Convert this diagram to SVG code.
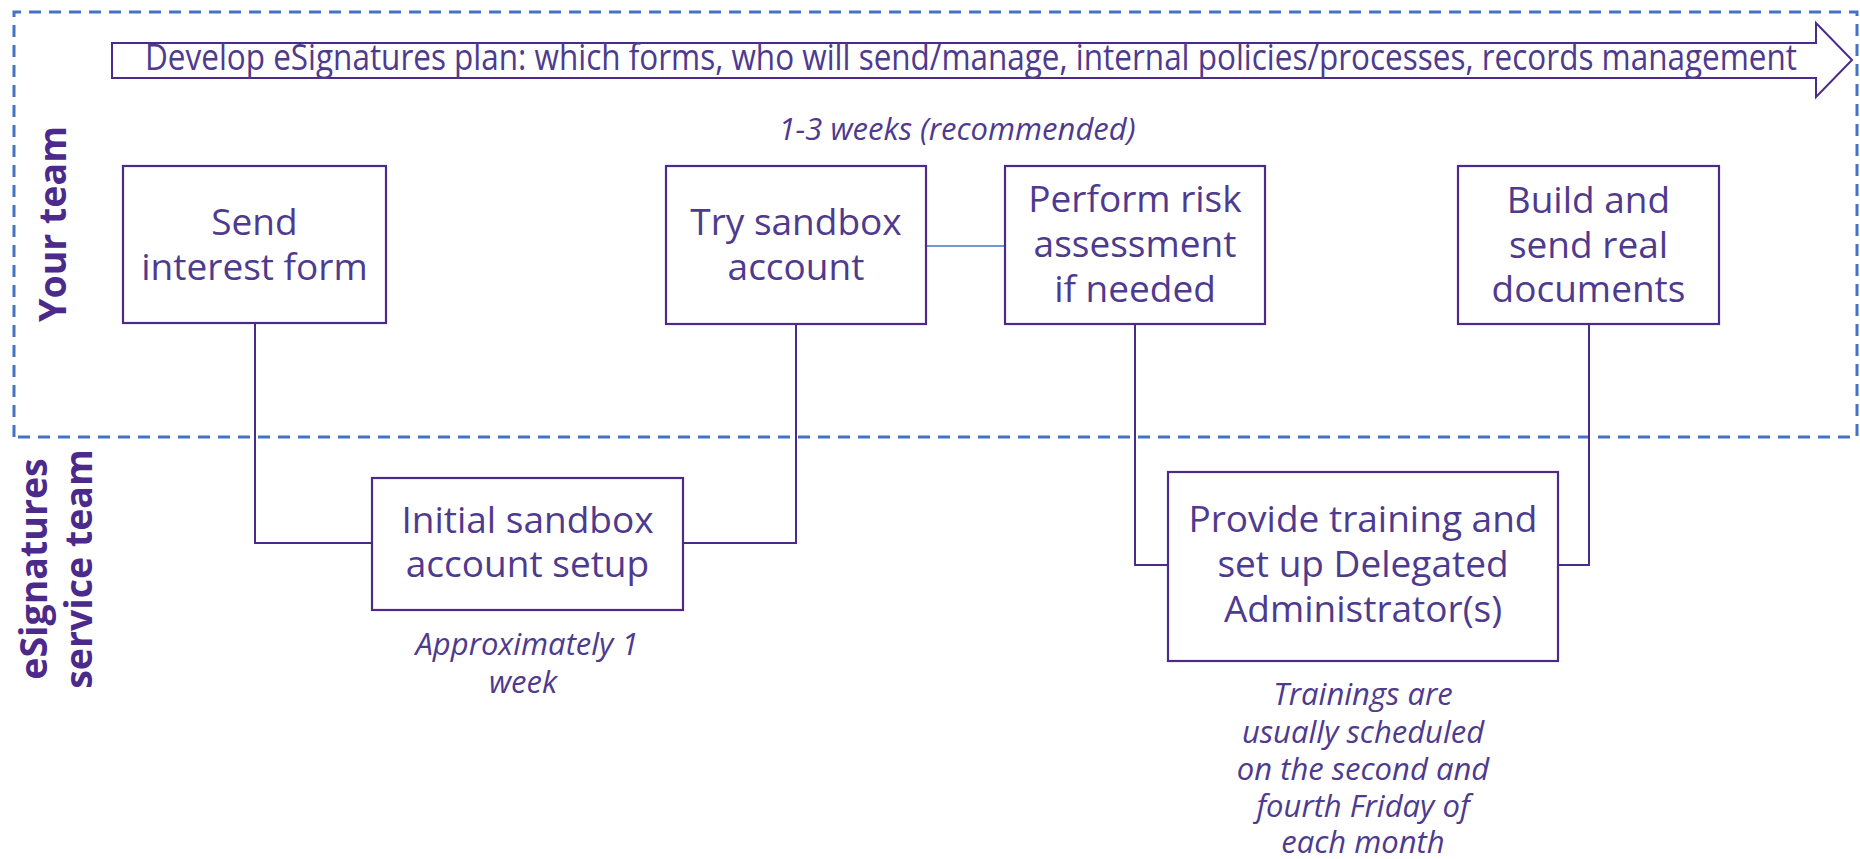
<svg xmlns="http://www.w3.org/2000/svg" width="1860" height="859" viewBox="0 0 1860 859">
<style>
.box{fill:#fff;stroke:#4b2a8c;stroke-width:2.2}
.lbl{font-family:"Open Sans","Liberation Sans",sans-serif;font-size:37px;fill:#4e3a8e;text-anchor:middle}
.note{font-family:"Open Sans","Liberation Sans",sans-serif;font-size:31px;font-style:italic;fill:#4e3a8e;text-anchor:middle}
.lane{font-family:"Open Sans","Liberation Sans",sans-serif;font-size:37.5px;font-weight:bold;fill:#4b2a8c;text-anchor:middle}
.con{fill:none;stroke:#4b2a8c;stroke-width:2}
</style>
<rect x="0" y="0" width="1860" height="859" fill="#fff"/>
<g id="lane-border">
<path d="M14,437 L14,12 L1857,12 L1857,437 L14,437" fill="none" stroke="#4472c4" stroke-width="3" stroke-dasharray="12 8"/>
</g>
<g id="lane-labels">
<text class="lane" transform="translate(66,224) rotate(-90)">Your team</text>
<text class="lane" transform="translate(47,569) rotate(-90)">eSignatures</text>
<text class="lane" transform="translate(92,569) rotate(-90)">service team</text>
</g>
<g id="plan-arrow">
<path d="M112,43 L1816,43 L1816,23 L1852,60 L1816,97 L1816,78 L112,78 Z" fill="#fff" stroke="#4b2a8c" stroke-width="2"/>
<text class="lbl" x="971" y="70" font-size="31" textLength="1652" lengthAdjust="spacingAndGlyphs">Develop eSignatures plan: which forms, who will send/manage, internal policies/processes, records management</text>
</g>
<g id="connectors">
<polyline class="con" points="255,323 255,543 372,543"/>
<polyline class="con" points="683,543 796,543 796,324"/>
<line x1="926" y1="246" x2="1005" y2="246" stroke="#4472c4" stroke-width="1.6"/>
<polyline class="con" points="1135,324 1135,565 1168,565"/>
<polyline class="con" points="1558,565 1589,565 1589,324"/>
</g>
<g id="node-send">
<rect class="box" x="123" y="166" width="263" height="157"/>
<text class="lbl" x="254.5" y="235">Send</text>
<text class="lbl" x="254.5" y="280">interest form</text>
</g>
<g id="node-try">
<rect class="box" x="666" y="166" width="260" height="158"/>
<text class="lbl" x="796" y="235">Try sandbox</text>
<text class="lbl" x="796" y="280">account</text>
</g>
<g id="node-risk">
<rect class="box" x="1005" y="166" width="260" height="158"/>
<text class="lbl" x="1135" y="212">Perform risk</text>
<text class="lbl" x="1135" y="257">assessment</text>
<text class="lbl" x="1135" y="302">if needed</text>
</g>
<g id="node-build">
<rect class="box" x="1458" y="166" width="261" height="158"/>
<text class="lbl" x="1588.5" y="213">Build and</text>
<text class="lbl" x="1588.5" y="258">send real</text>
<text class="lbl" x="1588.5" y="302">documents</text>
</g>
<g id="node-initial">
<rect class="box" x="372" y="478" width="311" height="132"/>
<text class="lbl" x="527.5" y="533">Initial sandbox</text>
<text class="lbl" x="527.5" y="577">account setup</text>
</g>
<g id="node-training">
<rect class="box" x="1168" y="472" width="390" height="189"/>
<text class="lbl" x="1363" y="532">Provide training and</text>
<text class="lbl" x="1363" y="577">set up Delegated</text>
<text class="lbl" x="1363" y="622">Administrator(s)</text>
</g>
<g id="notes">
<text class="note" x="957" y="140">1-3 weeks (recommended)</text>
<text class="note" x="527" y="655">Approximately 1</text>
<text class="note" x="523" y="693">week</text>
<text class="note" x="1363" y="705">Trainings are</text>
<text class="note" x="1363" y="743">usually scheduled</text>
<text class="note" x="1363" y="780">on the second and</text>
<text class="note" x="1363" y="817">fourth Friday of</text>
<text class="note" x="1363" y="853">each month</text>
</g>
</svg>
